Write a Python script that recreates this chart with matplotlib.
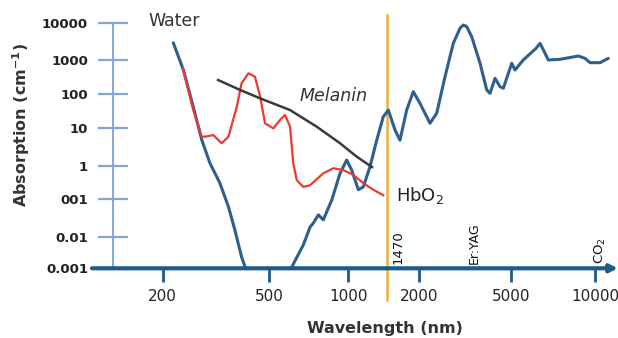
import numpy as np
import matplotlib
matplotlib.use("Agg")
import matplotlib.pyplot as plt
from matplotlib.ticker import FixedLocator, NullLocator

# ---------------- data ----------------
water_nm = [219, 239, 260, 280, 300, 327, 352, 372, 394, 406, 470, 550, 609, 674, 715,
            736, 769, 803, 865, 930, 986, 1034, 1104, 1159, 1238, 1323, 1411, 1483,
            1584, 1663, 1777, 1896, 2026, 2237, 2391, 2597, 2820, 3013, 3114, 3221,
            3385, 3677, 3930, 4060, 4267, 4484, 4634, 5029, 5167, 5534, 6151, 6354,
            6621, 6804, 7493, 8713, 9209, 9597, 10420, 11160]
water_abs = [2900, 505, 41.5, 4.7, 1.18, 0.30, 0.062, 0.015, 0.0023, 0.0011, 0.0003,
             0.0004, 0.0011, 0.0055, 0.018, 0.023, 0.038, 0.028, 0.094, 0.59, 1.41,
             0.74, 0.19, 0.23, 0.93, 4.7, 21, 33, 8.7, 4.7, 33, 115, 52, 13.5, 26.5,
             319, 2805, 7080, 8670, 7820, 4220, 798, 129, 103, 286, 161, 145, 798, 505,
             1000, 2061, 2805, 1514, 1000, 1044, 1279, 1109, 832, 832, 1109]

hbo2_nm = [238, 260, 280, 288, 309, 332, 352, 378, 394, 418, 442, 462, 482, 518, 549,
           574, 600, 617, 636, 674, 715, 803, 877, 957, 1050, 1159, 1279, 1411]
hbo2_abs = [568, 33, 5.8, 5.8, 6.4, 3.9, 5.8, 41.5, 204, 403, 319, 82, 13.5, 9.6, 16.8,
            23.7, 10.7, 1.16, 0.37, 0.23, 0.26, 0.59, 0.84, 0.74, 0.53, 0.30, 0.19, 0.13]

melanin_nm = [322, 389, 462, 600, 758, 930, 1086, 1263]
melanin_abs = [255, 129, 73, 33, 10.7, 3.9, 1.73, 0.91]

x_ticks = [200, 500, 1000, 2000, 5000, 10000]
x_ticklabels = ["200", "500", "1000", "2000", "5000", "10000"]
y_ticks = [0.001, 0.01, 0.1, 1, 10, 100, 1000, 10000]
y_ticklabels = ["0.001", "0.01", "001", "1", "10", "100", "1000", "10000"]
laser_nm = 1470

# ---------------- scales (hand-drawn axis spacing) ----------------
X_POS = [162.7, 269.3, 348.3, 418.7, 511.0, 595.0]
Y_POS = [-268.3, -236.7, -199.0, -165.7, -127.7, -93.7, -60.0, -22.7]


def make_interp(xp, fp):
    xp = np.asarray(xp, float)
    fp = np.asarray(fp, float)

    def f(x):
        x = np.asarray(x, float)
        y = np.interp(x, xp, fp)
        y = np.where(x < xp[0], fp[0] + (x - xp[0]) * (fp[1] - fp[0]) / (xp[1] - xp[0]), y)
        y = np.where(x > xp[-1], fp[-1] + (x - xp[-1]) * (fp[-1] - fp[-2]) / (xp[-1] - xp[-2]), y)
        return y
    return f


lx = np.log10(x_ticks)
ly = np.log10(y_ticks)
fx, gx = make_interp(lx, X_POS), make_interp(X_POS, lx)
fy, gy = make_interp(ly, Y_POS), make_interp(Y_POS, ly)


def x_fwd(v):
    return fx(np.log10(np.clip(np.asarray(v, float), 1e-9, None)))


def x_inv(p):
    return 10 ** gx(p)


def y_fwd(v):
    return fy(np.log10(np.clip(np.asarray(v, float), 1e-12, None)))


def y_inv(p):
    return 10 ** gy(p)


# ---------------- figure ----------------
plt.rcParams["mathtext.default"] = "regular"
plt.rcParams["font.family"] = ["DejaVu Sans"]

W, H = 618, 338
fig = plt.figure(figsize=(W / 100, H / 100), dpi=100)
ax = fig.add_axes([92 / W, (H - 268.3) / H, 520 / W, (268.3 - 22.7) / H])
ax.set_xscale("function", functions=(x_fwd, x_inv))
ax.set_yscale("function", functions=(y_fwd, y_inv))
ax.set_xlim(x_inv(92), x_inv(612))
ax.set_ylim(0.001, 10000)

BLUE = "#2E5F8E"
RED = "#EE3A2C"
BLACK = "#3A3A3A"
ORANGE = "#F0B03A"
AXIS_DARK = "#1D5B8A"
AXIS_LIGHT = "#7FA8DA"

ax.plot(water_nm, water_abs, color=BLUE, lw=2.2, solid_capstyle="round", zorder=3)
ax.plot(hbo2_nm, hbo2_abs, color=RED, lw=1.6, zorder=4)
ax.plot(melanin_nm, melanin_abs, color=BLACK, lw=1.8, zorder=4)

# 1470 nm laser line
ax.axvline(laser_nm, ymin=-0.13, ymax=1.03, color=ORANGE, lw=1.8, clip_on=False, zorder=2)

# spines / axes
for s in ["top", "right", "bottom"]:
    ax.spines[s].set_visible(False)
ax.spines["left"].set_position(("axes", (113 - 92) / 520))
ax.spines["left"].set_color(AXIS_LIGHT)
ax.spines["left"].set_linewidth(1.4)

ax.annotate("", xy=(1.0115, 0), xytext=(0, 0), xycoords="axes fraction",
            arrowprops=dict(arrowstyle="-|>", color=AXIS_DARK, lw=3,
                            mutation_scale=11, shrinkA=0, shrinkB=0),
            annotation_clip=False, zorder=6)

ax.xaxis.set_major_locator(FixedLocator(x_ticks))
ax.xaxis.set_minor_locator(NullLocator())
ax.set_xticklabels(x_ticklabels)
ax.yaxis.set_major_locator(FixedLocator(y_ticks))
ax.yaxis.set_minor_locator(NullLocator())
ax.set_yticklabels(y_ticklabels)

ax.tick_params(axis="x", direction="out", length=10, width=2, color=AXIS_DARK,
               pad=5, labelsize=11, labelcolor="#222222")
ax.tick_params(axis="y", direction="inout", length=22, width=1.6, color=AXIS_LIGHT,
               pad=7, labelsize=9.5, labelcolor="#222222")
for t in ax.get_yticklabels():
    t.set_fontweight("bold")

ax.set_facecolor("none")


def fpos(x, y):
    return x / W, 1 - y / H


fig.text(*fpos(21, 125), "Absorption (cm$^{-1}$)", rotation=90, ha="center", va="center",
         fontsize=11.5, fontweight="bold", color="#333333")
fig.text(*fpos(385, 328), "Wavelength (nm)", ha="center", va="center",
         fontsize=11.5, fontweight="bold", color="#333333")

fig.text(*fpos(148, 21), "Water", ha="left", va="center", fontsize=12.5, color="#333333")
fig.text(*fpos(300, 96), "Melanin", ha="left", va="center", fontsize=12.5,
         style="italic", color="#333333")
fig.text(*fpos(396, 196), "HbO$_2$", ha="left", va="center", fontsize=13, color="#222222")

fig.text(*fpos(398, 264), "1470", rotation=90, ha="center", va="bottom", fontsize=9.5,
         color="#111111")
fig.text(*fpos(474, 264), "Er:YAG", rotation=90, ha="center", va="bottom", fontsize=9,
         color="#111111")
fig.text(*fpos(600, 264), "CO$_2$", rotation=90, ha="center", va="bottom", fontsize=9.5,
         color="#111111")

fig.savefig("out.png", dpi=100, facecolor="white")
